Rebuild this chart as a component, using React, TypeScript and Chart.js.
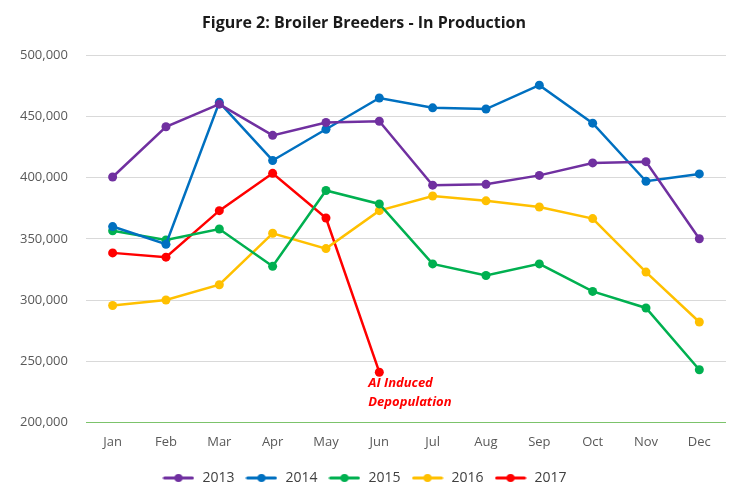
import React, { useEffect, useRef } from "react";
import { Chart, registerables } from "chart.js";

Chart.register(...registerables);

const months = ["Jan", "Feb", "Mar", "Apr", "May", "Jun", "Jul", "Aug", "Sep", "Oct", "Nov", "Dec"];
const seriesNames = ["2013", "2014", "2015", "2016", "2017"];
const colors = ["#7030A0", "#0070C0", "#00B050", "#FFC000", "#FF0000"];
const v2013 = [400500, 441500, 460000, 434500, 445000, 446000, 393800, 394500, 401800, 412000, 413000, 350000];
const v2014 = [360000, 345500, 461500, 414000, 439500, 465000, 457000, 456000, 475500, 444500, 397000, 403000];
const v2015 = [356500, 349000, 358000, 327500, 389500, 378500, 329500, 320000, 329500, 307000, 293500, 243000];
const v2016 = [295500, 300000, 312500, 354500, 342000, 373000, 385000, 381000, 376000, 366500, 322800, 282000];
const v2017 = [338500, 335000, 373000, 403500, 367000, 241000];
const allValues = [v2013, v2014, v2015, v2016, v2017];
const yTicks = [200000, 250000, 300000, 350000, 400000, 450000, 500000];
const annotationLines = ["AI Induced", "Depopulation"];
const titleText = "Figure 2: Broiler Breeders - In Production";

function legendIcon(color: string) {
  const c = document.createElement("canvas");
  c.width = 32;
  c.height = 12;
  const g = c.getContext("2d")!;
  g.strokeStyle = color;
  g.lineWidth = 3;
  g.lineCap = "round";
  g.beginPath();
  g.moveTo(2, 6);
  g.lineTo(30, 6);
  g.stroke();
  g.fillStyle = color;
  g.beginPath();
  g.arc(16, 6, 4, 0, Math.PI * 2);
  g.fill();
  return c;
}

export default function App() {
  const ref = useRef<HTMLCanvasElement | null>(null);
  useEffect(() => {
    if (!ref.current) return;
    const annotationPlugin = {
      id: "aiNote",
      afterDatasetsDraw(chart: any) {
        const { ctx, scales } = chart;
        const x = scales.x.getPixelForValue(5) - 11;
        const y0 = scales.y.getPixelForValue(v2017[5]) + 11;
        ctx.save();
        ctx.fillStyle = "#FF0000";
        ctx.font = "italic bold 13px 'Open Sans'";
        ctx.textAlign = "left";
        ctx.textBaseline = "middle";
        annotationLines.forEach((t, i) => ctx.fillText(t, x, y0 + i * 19));
        ctx.restore();
      },
    };
    const chart = new Chart(ref.current, {
      type: "line",
      data: {
        labels: months,
        datasets: seriesNames.map((name, i) => ({
          label: name,
          data: allValues[i],
          borderColor: colors[i],
          backgroundColor: colors[i],
          borderWidth: 2.5,
          pointRadius: 4.5,
          pointHoverRadius: 4.5,
          pointBorderWidth: 0,
          tension: 0,
          fill: false,
        })),
      },
      options: {
        animation: false,
        responsive: false,
        maintainAspectRatio: false,
        layout: { padding: { left: 2, right: 24, top: 8, bottom: 5 } },
        plugins: {
          title: {
            display: true,
            text: titleText,
            color: "#1a1a1a",
            font: { family: "'Open Sans'", size: 16, weight: "bold" },
            padding: { top: 6, bottom: 22 },
          },
          legend: {
            position: "bottom",
            labels: {
              usePointStyle: true,
              pointStyleWidth: 34,
              color: "#404040",
              font: { family: "'Open Sans'", size: 14 },
              padding: 10,
              generateLabels: (chart: any) =>
                chart.data.datasets.map((ds: any, i: number) => ({
                  text: ds.label,
                  fillStyle: colors[i],
                  strokeStyle: colors[i],
                  fontColor: "#404040",
                  pointStyle: legendIcon(colors[i]),
                  datasetIndex: i,
                  hidden: false,
                  lineWidth: 0,
                })),
            },
          },
          tooltip: { enabled: false },
        },
        scales: {
          x: {
            offset: true,
            grid: { display: false, offset: true },
            border: { display: false },
            afterFit: (s: any) => {
              s.height += 7;
            },
            ticks: {
              color: "#595959",
              font: { family: "'Open Sans'", size: 13 },
              padding: 4,
            },
          },
          y: {
            min: 200000,
            max: 500000,
            afterBuildTicks: (axis: any) => {
              axis.ticks = yTicks.map((v) => ({ value: v }));
            },
            grid: {
              color: (c: any) => (c.tick && c.tick.value === 200000 ? "#7CC36B" : "#D9D9D9"),
              lineWidth: 1,
              drawTicks: false,
            },
            border: { display: false },
            ticks: {
              color: "#595959",
              font: { family: "'Open Sans'", size: 13 },
              padding: 18,
              callback: (v: any) => Number(v).toLocaleString("en-US"),
            },
          },
        },
      },
      plugins: [annotationPlugin],
    } as any);
    return () => chart.destroy();
  }, []);
  return (
    <div style={{ position: "absolute", left: 0, top: 0, width: 750, height: 500, background: "#fff" }}>
      <canvas ref={ref} width={750} height={500} style={{ width: 750, height: 500 }} />
    </div>
  );
}
